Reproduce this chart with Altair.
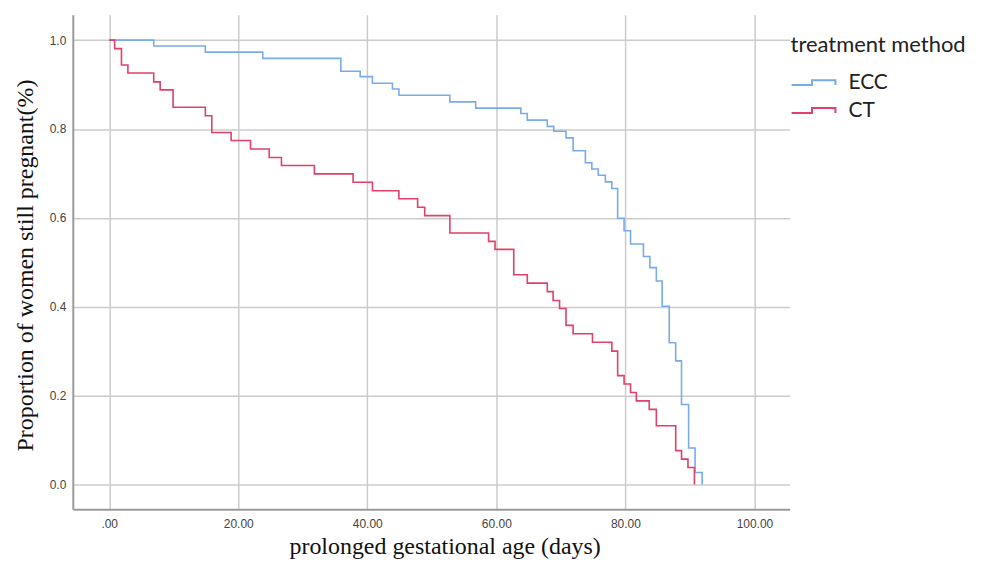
import altair as alt
import pandas as pd

# Kaplan-Meier curves (day, proportion after step)
ecc_days = [0, 6.9, 14.9, 23.8, 35.9, 38.9, 40.8, 43.9, 44.9, 52.8, 56.8, 63.8, 64.8,
            67.9, 68.9, 70.8, 71.9, 73.8, 74.8, 75.8, 76.9, 77.9, 78.8, 79.8, 80.8,
            82.8, 83.8, 84.8, 85.7, 86.8, 87.8, 88.7, 89.8, 90.8, 91.9]
ecc_surv = [1.0, 0.987, 0.973, 0.959, 0.930, 0.918, 0.903, 0.890, 0.876, 0.861, 0.847,
            0.835, 0.820, 0.806, 0.795, 0.780, 0.751, 0.724, 0.710, 0.696, 0.681, 0.666,
            0.599, 0.571, 0.541, 0.513, 0.488, 0.458, 0.401, 0.319, 0.278, 0.180, 0.082,
            0.027, 0.0]

ct_days = [0, 0.85, 1.9, 2.9, 6.9, 7.9, 9.9, 14.9, 15.9, 18.9, 21.9, 24.8, 26.7, 31.8,
           37.8, 40.8, 44.9, 47.8, 48.9, 52.8, 58.8, 59.8, 62.7, 64.8, 67.9, 68.8, 69.8,
           70.8, 71.9, 74.9, 77.9, 78.8, 79.8, 80.8, 81.7, 83.7, 84.8, 87.8, 88.7, 89.7,
           90.7]
ct_surv = [1.0, 0.981, 0.944, 0.926, 0.906, 0.888, 0.849, 0.830, 0.792, 0.774, 0.755,
           0.736, 0.718, 0.699, 0.680, 0.661, 0.643, 0.624, 0.605, 0.566, 0.547, 0.529,
           0.472, 0.453, 0.434, 0.414, 0.396, 0.358, 0.339, 0.320, 0.300, 0.245, 0.226,
           0.207, 0.188, 0.169, 0.132, 0.076, 0.057, 0.038, 0.0]

groups = ["ECC", "CT"]
colors = ["#78abe9", "#e0406a"]
x_ticks = [0, 20, 40, 60, 80, 100]
y_ticks = [0.0, 0.2, 0.4, 0.6, 0.8, 1.0]

df = pd.concat([
    pd.DataFrame({"day": ecc_days, "surv": ecc_surv, "group": "ECC"}),
    pd.DataFrame({"day": ct_days, "surv": ct_surv, "group": "CT"}),
], ignore_index=True)

step_path = "M-2.2,0.25 H-0.15 V-0.25 H2.2 V0.25"

chart = alt.Chart(df).mark_line(interpolate="step-after", strokeWidth=1.6).encode(
    x=alt.X(
        "day:Q",
        scale=alt.Scale(domain=[-5.64, 105.45], nice=False, zero=False),
        axis=alt.Axis(
            values=x_ticks,
            labelExpr="datum.value == 0 ? '.00' : format(datum.value, '.2f')",
            title="prolonged gestational age (days)",
            titleX=373, titleY=44, titleBaseline="alphabetic", titleAlign="center",
            labelPadding=9,
        ),
    ),
    y=alt.Y(
        "surv:Q",
        scale=alt.Scale(domain=[-0.056, 1.057], nice=False, zero=False),
        axis=alt.Axis(
            values=y_ticks, format=".1f",
            title="Proportion of women still pregnant(%)",
            titleX=-40, titleY=251, titleAngle=270, titleBaseline="alphabetic",
            titleAlign="center", labelPadding=7,
        ),
    ),
    color=alt.Color(
        "group:N",
        scale=alt.Scale(domain=groups, range=colors),
        legend=alt.Legend(
            title="treatment method", orient="none", legendX=720, legendY=20,
            titleFont="Lato", titleFontSize=22, titleFontWeight="normal", titleColor="#222222",
            labelFont="Lato", labelFontSize=21, labelColor="#222222",
            symbolType=step_path, symbolSize=400, symbolStrokeWidth=2,
            symbolOffset=12, labelOffset=24, rowPadding=7, titlePadding=15,
        ),
    ),
    order=alt.Order("day:Q"),
).properties(
    width=719, height=496,
    autosize=alt.AutoSizeParams(type="none"),
    padding={"left": 65, "top": 6, "right": 190, "bottom": 50},
).configure_view(strokeWidth=0).configure_axis(
    domainColor="#9a9a9a", domainWidth=2, gridColor="#cccccc", gridWidth=1.5,
    ticks=False, labelFont="Liberation Sans", labelFontSize=12, labelColor="#444444",
    titleFont="Liberation Serif", titleFontSize=24, titleFontWeight="normal",
    titleColor="#111111",
)

chart.save("out.html", embed_options={"renderer": "svg", "actions": False})
